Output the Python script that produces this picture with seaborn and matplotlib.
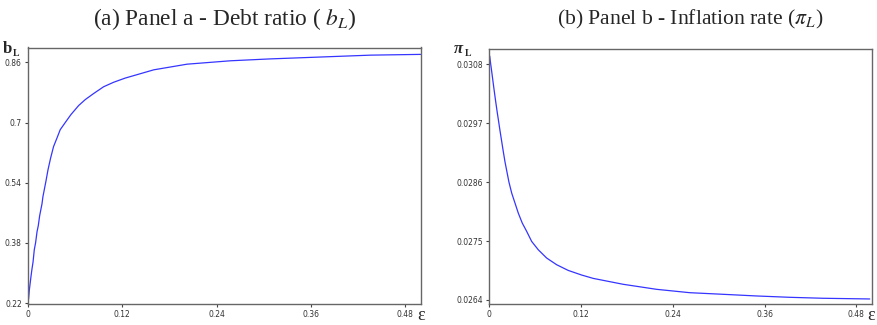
import matplotlib
matplotlib.use("Agg")
import matplotlib.pyplot as plt
import seaborn as sns
import numpy as np

# ---- data ----
eps_b = [0.0, 0.0008, 0.0017, 0.0038, 0.005, 0.0064, 0.008, 0.0097, 0.0115, 0.0131,
         0.0148, 0.0178, 0.019, 0.0229, 0.0254, 0.0287, 0.0325, 0.0369, 0.041, 0.0474,
         0.0546, 0.0644, 0.0729, 0.0835, 0.0962, 0.109, 0.1236, 0.16, 0.2024, 0.2575,
         0.308, 0.372, 0.436, 0.4994]
b_L = [0.222, 0.233, 0.255, 0.291, 0.310, 0.329, 0.362, 0.381, 0.410, 0.426,
       0.452, 0.484, 0.503, 0.545, 0.574, 0.605, 0.636, 0.659, 0.681, 0.700,
       0.721, 0.745, 0.761, 0.777, 0.795, 0.807, 0.818, 0.840, 0.855, 0.864,
       0.869, 0.874, 0.879, 0.881]

eps_pi = [0.0005, 0.0018, 0.0031, 0.004, 0.0062, 0.0083, 0.0105, 0.0118, 0.014, 0.0162,
          0.0183, 0.0205, 0.0235, 0.0257, 0.0293, 0.0336, 0.0379, 0.0431, 0.0489, 0.0554,
          0.064, 0.075, 0.0881, 0.1032, 0.1207, 0.1359, 0.175, 0.2187, 0.2622, 0.3057,
          0.3494, 0.3929, 0.4364, 0.4974]
pi_L = [0.030955, 0.030806, 0.030670, 0.030570, 0.030330, 0.030110, 0.029890, 0.029770, 0.029560, 0.029360,
        0.029170, 0.028980, 0.028760, 0.028600, 0.028395, 0.028209, 0.028022, 0.027836, 0.027680, 0.027493,
        0.027338, 0.027183, 0.027058, 0.026952, 0.026866, 0.026803, 0.026693, 0.026599, 0.026536, 0.026506,
        0.026475, 0.026450, 0.026432, 0.026419]

x_ticks = [0, 0.12, 0.24, 0.36, 0.48]
x_tick_labels = ["0", "0.12", "0.24", "0.36", "0.48"]
b_ticks = [0.22, 0.38, 0.54, 0.70, 0.86]
b_tick_labels = ["0.22", "0.38", "0.54", "0.7", "0.86"]
pi_ticks = [0.0264, 0.0275, 0.0286, 0.0297, 0.0308]
pi_tick_labels = ["0.0264", "0.0275", "0.0286", "0.0297", "0.0308"]

titles = ["(a) Panel a - Debt ratio ( $b_L$)", "(b) Panel b - Inflation rate ($\\pi_L$)"]

sns.set_style("ticks")
plt.rcParams["mathtext.fontset"] = "stix"

W, H = 877, 325
fig = plt.figure(figsize=(W / 100, H / 100), dpi=100)

def px_axes(l, t, r, b):
    return fig.add_axes([l / W, 1 - b / H, (r - l) / W, (b - t) / H])

axA = px_axes(28, 47.5, 421, 304)
axB = px_axes(489.3, 49.3, 871.7, 304)

line_col = "#3535ff"
sns.lineplot(x=eps_b, y=b_L, ax=axA, color=line_col, lw=0.9)
sns.lineplot(x=eps_pi, y=pi_L, ax=axB, color=line_col, lw=0.9)

axA.set_xlim(0, 0.5)
axA.set_ylim(0.2178, 0.8993)
axB.set_xlim(0, 0.5)
axB.set_ylim(0.026325, 0.03108)

for ax, yt, ytl in [(axA, b_ticks, b_tick_labels), (axB, pi_ticks, pi_tick_labels)]:
    ax.set_xticks(x_ticks)
    ax.set_xticklabels(x_tick_labels)
    ax.set_yticks(yt)
    ax.set_yticklabels(ytl)
    ax.tick_params(axis="both", direction="out", length=2.5, width=0.8, color="#444444",
                   labelsize=5.5, labelcolor="#333333", pad=2)
    for sp in ax.spines.values():
        sp.set_visible(True)
        sp.set_color("#666666")
        sp.set_linewidth(1.0)
    ax.set_xlabel("")
    ax.set_ylabel("")
    ax.grid(False)

serif = ["Liberation Serif", "DejaVu Serif"]
fig.text(225 / W, 1 - 19 / H, titles[0], ha="center", va="center", fontsize=16.8, family=serif)
fig.text(690 / W, 1 - 19 / H, titles[1], ha="center", va="center", fontsize=15.6, family=serif)

# axis labels
fig.text(3 / W, 1 - 53 / H, "b", ha="left", va="baseline", fontsize=12, fontweight="bold", family=serif)
fig.text(12.5 / W, 1 - 55.5 / H, "L", ha="left", va="baseline", fontsize=7, fontweight="bold", family=serif)
fig.text(454 / W, 1 - 53 / H, "π", ha="left", va="baseline", fontsize=12, fontweight="bold", style="italic", family=serif)
fig.text(464.5 / W, 1 - 55.5 / H, "L", ha="left", va="baseline", fontsize=7, fontweight="bold", family=serif)
fig.text(417.5 / W, 1 - 320 / H, "ε", ha="left", va="baseline", fontsize=13, family=serif)
fig.text(867.5 / W, 1 - 320 / H, "ε", ha="left", va="baseline", fontsize=13, family=serif)

fig.savefig("out.png", dpi=100)
